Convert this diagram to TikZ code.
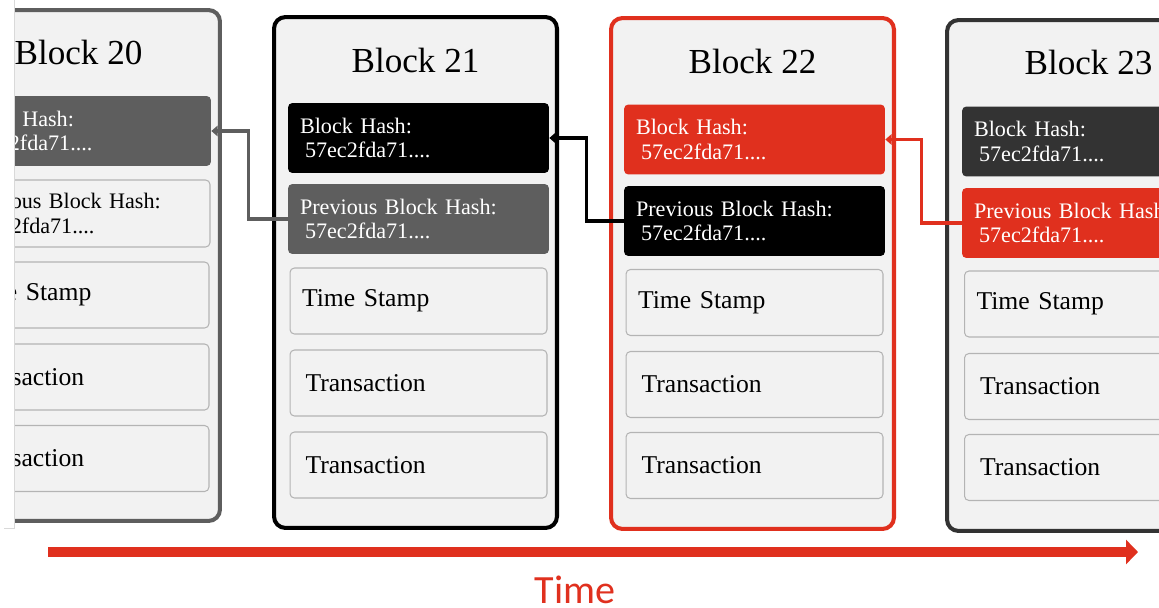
\documentclass[tikz,border=0pt]{standalone}
\usepackage{fontspec}
\setmainfont{Liberation Serif}
\newfontfamily\zeitfont{Carlito}
\usepackage{tikz}
\usetikzlibrary{positioning,%
  arrows.meta%
}

\definecolor{chainred}{HTML}{E0301E}
\definecolor{midgrey}{HTML}{5E5E5E}
\definecolor{darkgrey}{HTML}{333333}
\definecolor{boxfill}{HTML}{F2F2F2}
\definecolor{fieldline}{HTML}{B4B4B4}

\begin{document}
\begin{tikzpicture}
  [
    x=0.02cm, y=-0.02cm,
    block/.style={draw, line width=2.3pt, fill=boxfill, rounded corners=6.5pt,
      minimum width=5.66cm, minimum height=10.22cm},
    blocktitle/.style={font=\fontsize{20}{24}\selectfont},
    hashbox/.style={rounded corners=2.5pt, text=white, inner xsep=0.24cm, inner ysep=0pt,
      minimum width=5.22cm, minimum height=1.4cm, text width=4.74cm, align=left,
      font=\fontsize{12.6}{14.2}\selectfont},
    field/.style={draw=fieldline, line width=0.6pt, fill=boxfill, rounded corners=2.5pt,
      inner xsep=0.24cm, inner ysep=0pt, minimum width=5.14cm, minimum height=1.32cm,
      text width=4.66cm, align=left, font=\fontsize{14.6}{17}\selectfont},
    link/.style={line width=2pt, -{Triangle[length=3.6pt,width=6pt]}},
    timearrow/.style={line width=6.2pt, chainred, -{Triangle[length=6.8pt,width=13.6pt]}},
    timelabel/.style={text=chainred, font=\zeitfont\fontsize{22.8}{26}\selectfont}
  ]

  \useasboundingbox (0,0) rectangle (1159,608);

  % Rand links
  \draw[draw=black!15, line width=0.5pt] (14.5,0) -- (14.5,528) -- (4,528);

  \begin{scope}
    \clip (15,0) rectangle (1159,608);

    % Block 20
    \begin{scope}[shift={(-63,10)}]
      \node[block, draw=midgrey] (b20) at (141.5,255.5) {};
      \node[blocktitle] (b20title) at (141.5,42) {Block 20};
      \node[hashbox, fill=midgrey] (b20hash) at (143.5,121) {Block Hash:\\\hspace{0.1cm}57ec2fda71....};
      \node[field, minimum width=5.18cm, minimum height=1.34cm, font=\fontsize{12.6}{14.2}\selectfont] (b20prev) at (143.5,203.5) {Previous Block Hash:\\\hspace{0.1cm}57ec2fda71....};
      \node[field] (b20time) at (143.5,285) {Time Stamp};
      \node[field] (b20tx1) at (143.5,367) {Transaction};
      \node[field] (b20tx2) at (143.5,448.5) {Transaction};
    \end{scope}

    % Block 21
    \begin{scope}[shift={(274,17)}]
      \node[block, draw=black] (b21) at (141.5,255.5) {};
      \node[blocktitle] (b21title) at (141.5,43) {Block 21};
      \node[hashbox, fill=black] (b21hash) at (144.5,121) {Block Hash:\\\hspace{0.1cm}57ec2fda71....};
      \node[hashbox, fill=midgrey] (b21prev) at (144.5,202) {Previous Block Hash:\\\hspace{0.1cm}57ec2fda71....};
      \node[field] (b21time) at (144.5,284) {Time Stamp};
      \node[field] (b21tx1) at (144.5,366) {\hspace{2pt}Transaction};
      \node[field] (b21tx2) at (144.5,448) {\hspace{2pt}Transaction};
    \end{scope}

    % Block 22
    \begin{scope}[shift={(610,18)}]
      \node[block, draw=chainred] (b22) at (142.5,255.5) {};
      \node[blocktitle] (b22title) at (142.5,43) {Block 22};
      \node[hashbox, fill=chainred] (b22hash) at (144.5,121.5) {Block Hash:\\\hspace{0.1cm}57ec2fda71....};
      \node[hashbox, fill=black] (b22prev) at (144.5,203) {Previous Block Hash:\\\hspace{0.1cm}57ec2fda71....};
      \node[field] (b22time) at (144.5,284.5) {Time Stamp};
      \node[field] (b22tx1) at (144.5,366.5) {\hspace{2pt}Transaction};
      \node[field] (b22tx2) at (144.5,447.5) {\hspace{2pt}Transaction};
    \end{scope}

    % Block 23
    \begin{scope}[shift={(947,20)}]
      \node[block, draw=darkgrey] (b23) at (141.5,255.5) {};
      \node[blocktitle] (b23title) at (141.5,42) {Block 23};
      \node[hashbox, fill=darkgrey] (b23hash) at (145.5,121.5) {Block Hash:\\\hspace{0.1cm}57ec2fda71....};
      \node[hashbox, fill=chainred] (b23prev) at (145.5,203) {Previous Block Hash:\\\hspace{0.1cm}57ec2fda71....};
      \node[field] (b23time) at (146,284) {Time Stamp};
      \node[field] (b23tx1) at (146,366.5) {\hspace{2pt}Transaction};
      \node[field] (b23tx2) at (146,447.5) {\hspace{2pt}Transaction};
    \end{scope}

    % Verkettung
    \draw[link, midgrey] (b21prev.west) -- ++(-39,0) |- (b20hash.east);
    \draw[link, black] (b22prev.west) -- ++(-37,0) |- (b21hash.east);
    \draw[link, chainred] (b23prev.west) -- ++(-40,0) |- (b22hash.east);
  \end{scope}

  % Zeitachse
  \coordinate (tstart) at (48,552);
  \coordinate (tend) at (1138,552);
  \draw[timearrow] (tstart) -- (tend);
  \node[timelabel] (time) at (575,590) {Time};
\end{tikzpicture}
\end{document}
